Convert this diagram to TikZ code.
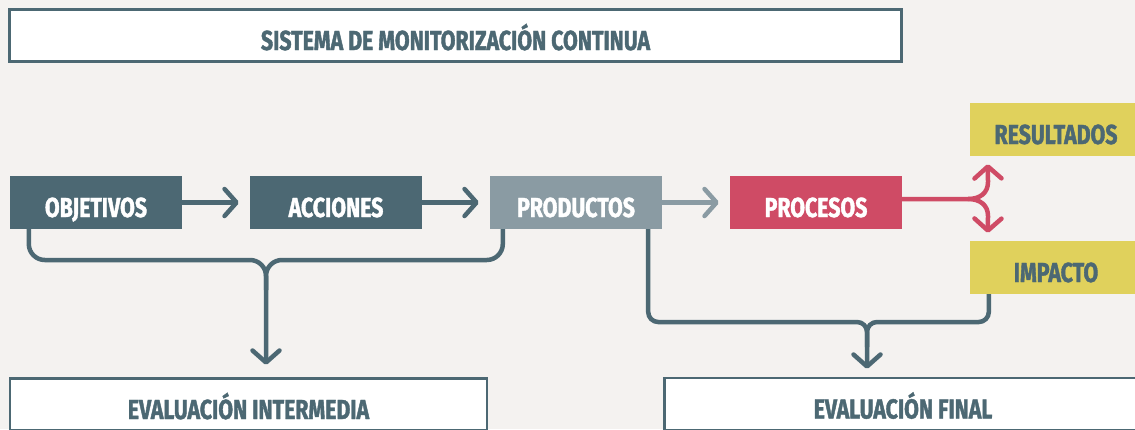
\documentclass[tikz,border=0pt]{standalone}
\usepackage{fontspec}
\newfontfamily\rotulo{Fira Sans Bold}[FakeStretch=0.775,FakeBold=1.4]
\usetikzlibrary{arrows.meta,calc}
\definecolor{pizarra}{HTML}{4C6873}
\definecolor{grisazul}{HTML}{8A9BA3}
\definecolor{carmin}{HTML}{CF4B65}
\definecolor{mostaza}{HTML}{E0D15C}
\definecolor{fondo}{HTML}{F4F2F0}
\tikzset{
  texto/.style={inner sep=0pt,text height=29pt,text depth=0pt,font=\rotulo\fontsize{27.5}{27.5}\selectfont},
  caja/.style={texto,minimum width=172pt,minimum height=53pt,text=white},
  marco/.style={texto,draw=pizarra,line width=2.5pt,fill=white,minimum height=52pt,text=pizarra},
  conector/.style={draw=pizarra,line width=4.5pt,-{Straight Barb[length=12pt,width=27pt,round]}},
}
\begin{document}
\begin{tikzpicture}[x=1pt,y=1pt,yscale=-1,xscale=1]
\useasboundingbox (0,0) rectangle (1135,429);
\fill[fondo] (0,0) rectangle (1135,429);

%Shape: marcos
\node[marco,minimum width=892pt] (titulo) at (455.5,35.5) {SISTEMA DE MONITORIZACIÓN CONTINUA};
\node[marco,minimum width=477pt] (intermedia) at (248.5,404.5) {EVALUACIÓN INTERMEDIA};
\node[marco,minimum width=477pt] (final) at (903,404) {EVALUACIÓN FINAL};

%Shape: cajas
\node[caja,fill=pizarra] (objetivos) at (96,202.5) {OBJETIVOS};
\node[caja,fill=pizarra] (acciones) at (336,202.5) {ACCIONES};
\node[caja,fill=grisazul] (productos) at (576,202.5) {PRODUCTOS};
\node[caja,fill=carmin] (procesos) at (816,202.5) {PROCESOS};
\node[caja,fill=mostaza,text=pizarra] (resultados) at (1056,129.5) {RESULTADOS};
\node[caja,fill=mostaza,text=pizarra] (impacto) at (1056,267.5) {IMPACTO};

\coordinate (horquilla) at (968,199);
\coordinate (unionA) at (266,260);
\coordinate (unionB) at (867,322);

%Straight Lines
\draw[conector,shorten >=11pt] (objetivos.east) -- (acciones.west);
\draw[conector,shorten >=11pt] (acciones.east) -- (productos.west);
\draw[conector,draw=grisazul,shorten >=11pt] (productos.east) -- (procesos.west);

%Curve Lines: bifurcacion
\draw[conector,draw=carmin,shorten >=8pt] (procesos.east |- horquilla) -- (horquilla) .. controls (980,199) and (988,193) .. (988,182) -- ($(resultados.south west)+(18,0)$);
\draw[conector,draw=carmin,shorten >=8pt] (horquilla) .. controls (980,199) and (988,205) .. (988,216) -- ($(impacto.north west)+(18,0)$);

%Curve Lines: llaves
\draw[conector,rounded corners=16pt,shorten >=12.5pt] ($(objetivos.south west)+(19,0)$) |- (unionA) -- (unionA |- intermedia.north);
\draw[conector,-,rounded corners=16pt] ($(productos.south west)+(13,0)$) |- (unionA) -- ++(0,30);
\draw[conector,rounded corners=10pt,shorten >=8pt] ($(productos.south east)+(-14,0)$) |- (unionB) -- (unionB |- final.north);
\draw[conector,-,rounded corners=10pt] ($(impacto.south west)+(19,0)$) |- (unionB) -- ++(0,25);

\end{tikzpicture}
\end{document}
